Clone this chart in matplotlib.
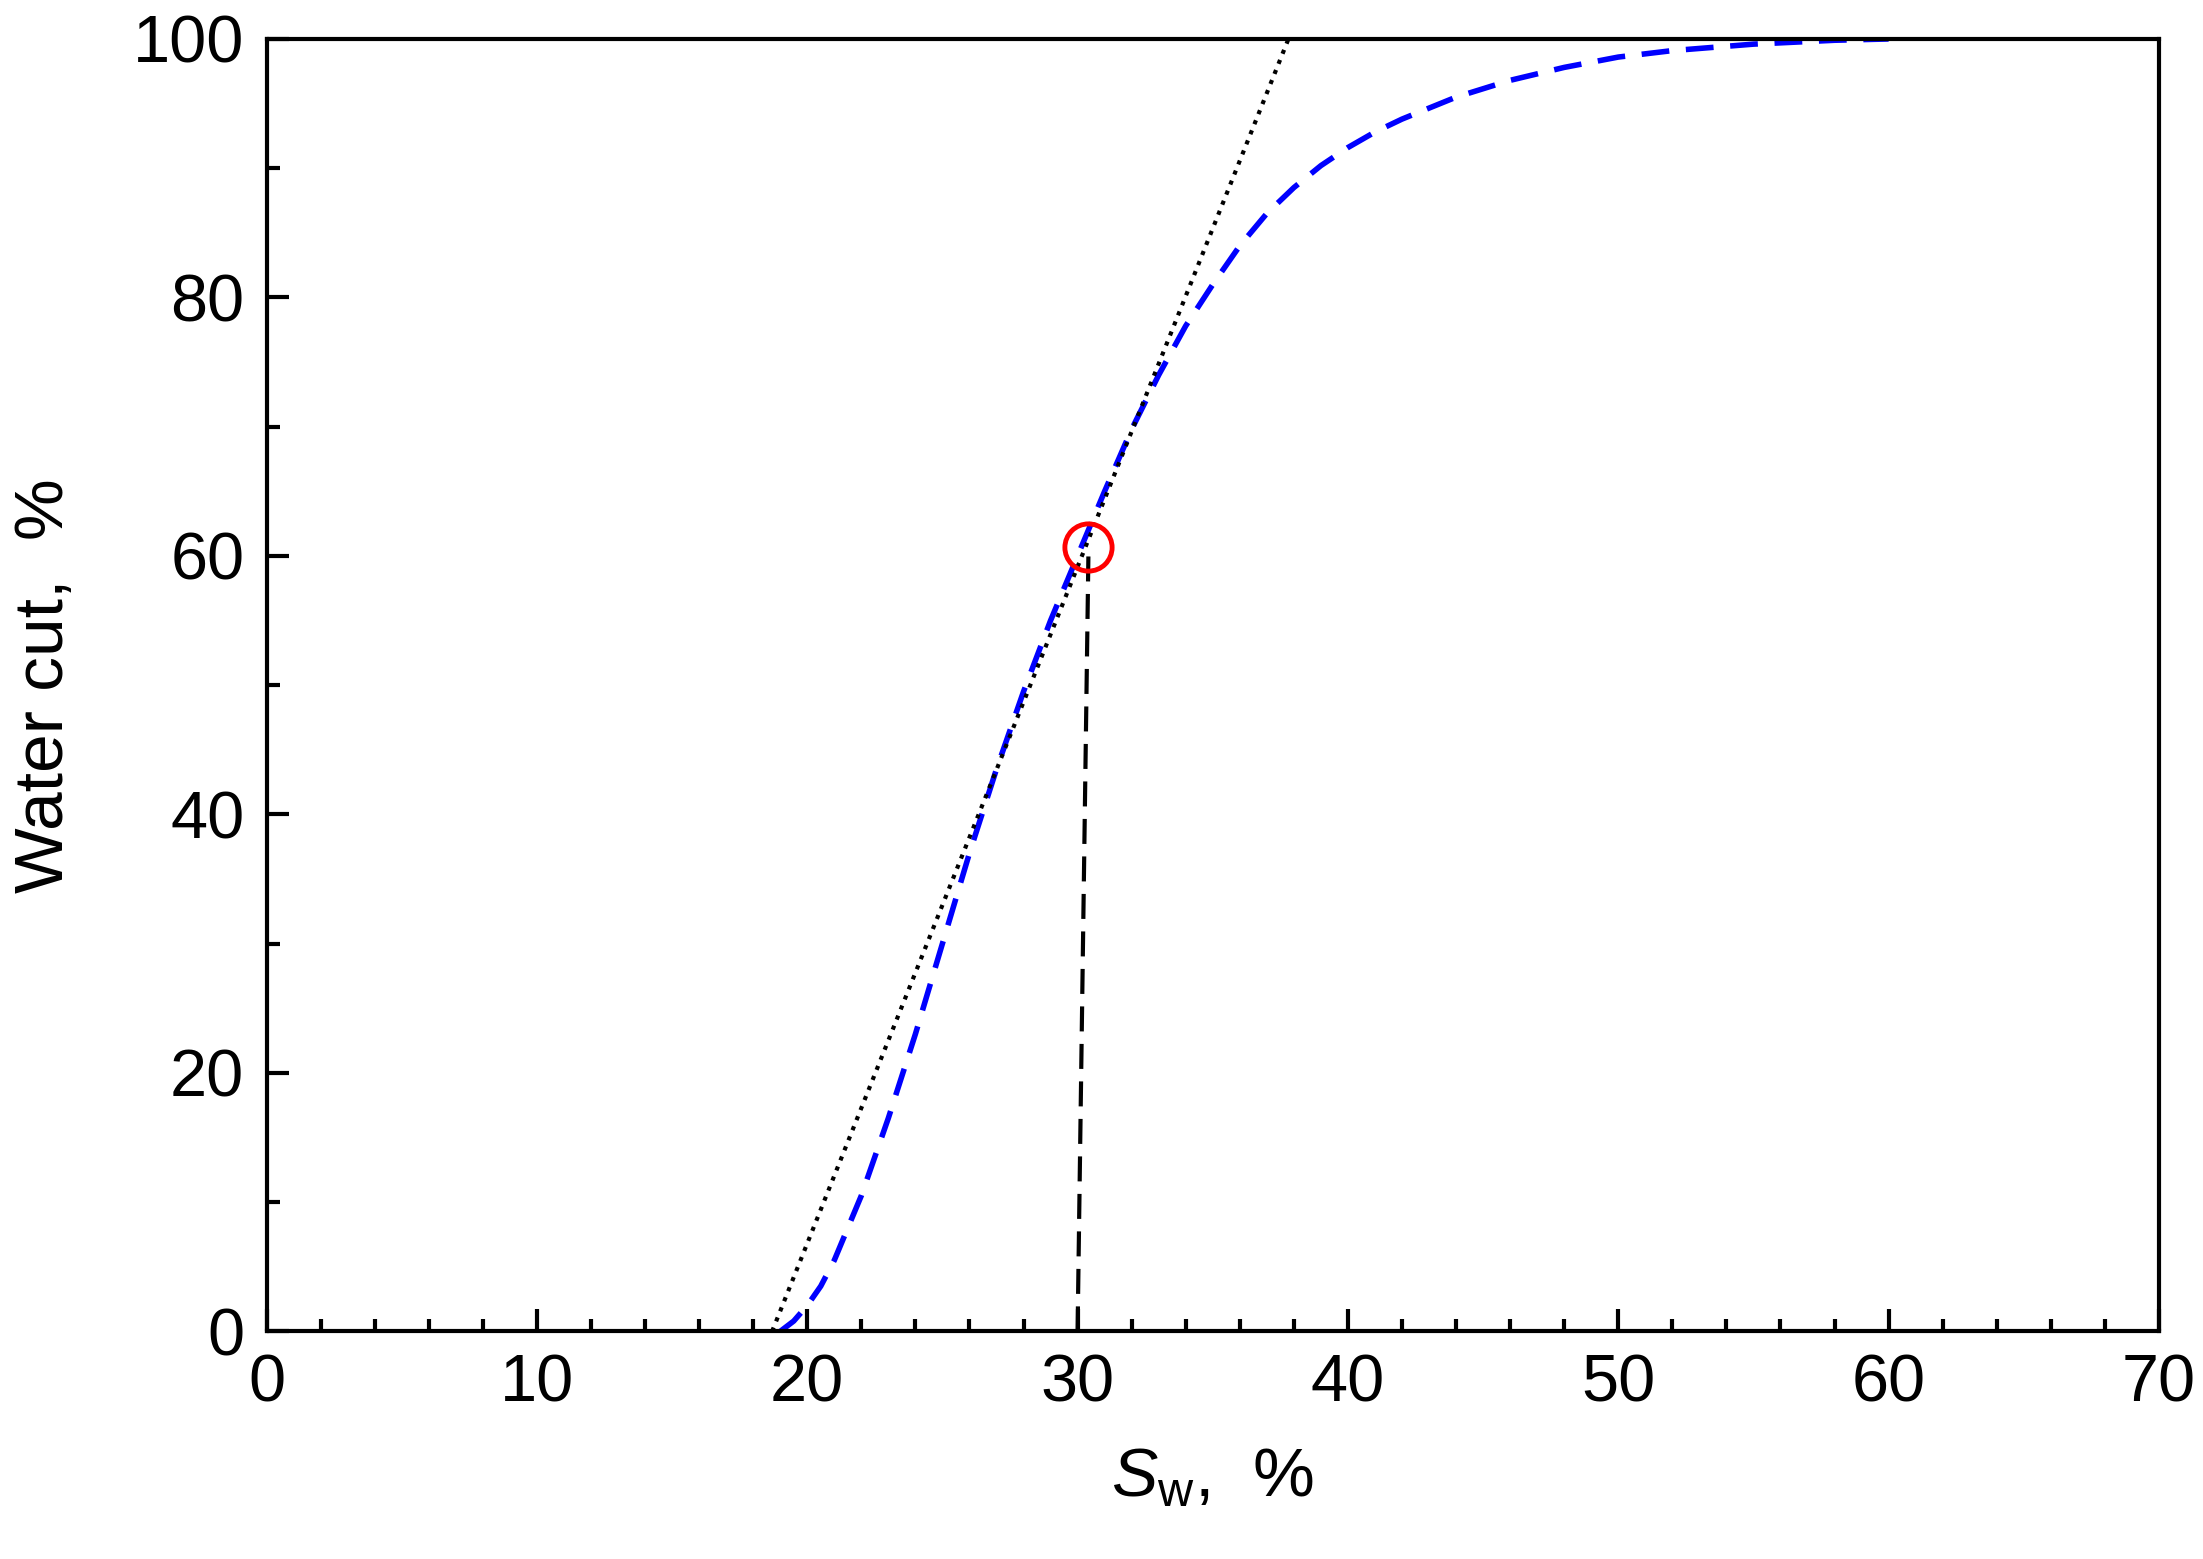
import numpy as np
import matplotlib.pyplot as plt

plt.rcParams['font.family'] = ['Liberation Sans', 'DejaVu Sans']
plt.rcParams['mathtext.fontset'] = 'custom'
plt.rcParams['mathtext.it'] = 'Liberation Sans:italic'
plt.rcParams['mathtext.rm'] = 'Liberation Sans'

# fractional flow curve
sw = [19, 19.5, 20, 20.5, 21, 22, 23, 24, 25, 26, 27, 28, 29, 30, 31, 32, 33, 34, 35,
      36, 37, 38, 39, 40, 41, 42, 44, 46, 48, 50, 52, 55, 58, 60]
fw = [0, 0.8, 2, 3.5, 5.5, 10.5, 16.5, 23, 30, 37, 43.5, 49.5, 55, 60, 65, 69.8, 74, 77.8, 81,
      84, 86.5, 88.5, 90.2, 91.6, 92.8, 93.8, 95.5, 96.8, 97.8, 98.6, 99.1, 99.6, 99.9, 100]

tangent_x = [18.7, 37.8]
tangent_y = [0, 100]

vert_x = [30.0, 30.4]
vert_y = [0, 60]

pt_x = [30.4]
pt_y = [60.7]

fig = plt.figure(figsize=(22.03, 15.59), dpi=100)
ax = fig.add_axes([0.121, 0.146, 0.859, 0.829])

ax.plot(sw, fw, color='blue', lw=4, ls=(0, (5, 3)))
ax.plot(tangent_x, tangent_y, color='black', lw=3, ls=(0, (1, 1.6)))
ax.plot(vert_x, vert_y, color='black', lw=3, ls=(0, (6, 3)))
ax.plot(pt_x, pt_y, 'o', ms=34, mfc='none', mec='red', mew=3.5)

ax.set_xlim(0, 70)
ax.set_ylim(0, 100)
ax.set_xticks(np.arange(0, 71, 10))
ax.set_xticks(np.arange(0, 71, 2), minor=True)
ax.set_yticks(np.arange(0, 101, 20))
ax.set_yticks(np.arange(0, 101, 10), minor=True)
ax.tick_params(which='both', direction='in', width=3, labelsize=48, pad=16)
ax.tick_params(which='major', length=16)
ax.tick_params(which='minor', length=9)
for s in ax.spines.values():
    s.set_linewidth(3)

ax.set_xlabel(r'$\mathit{S}_{\mathrm{w}}$,  %', fontsize=50, labelpad=22)
ax.set_ylabel('Water cut,  %', fontsize=50, labelpad=40)

fig.savefig('out.png', dpi=100)
